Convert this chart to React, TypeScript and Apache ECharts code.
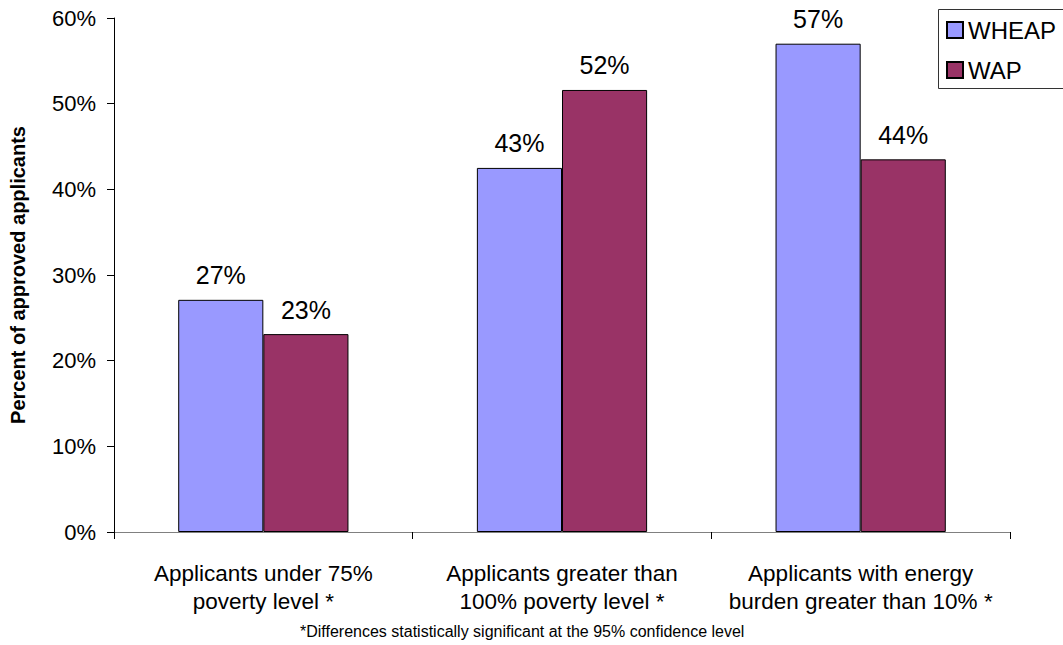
import React, { useEffect, useRef } from "react";
import * as echarts from "echarts";

const categories = [
  "Applicants under 75%\npoverty level *",
  "Applicants greater than\n100% poverty level *",
  "Applicants with energy\nburden greater than 10% *",
];
const wheapValues = [27.1, 42.5, 57.0];
const wapValues = [23.1, 51.6, 43.5];
const wheapLabels = ["27%", "43%", "57%"];
const wapLabels = ["23%", "52%", "44%"];
const yTicks = [0, 10, 20, 30, 40, 50, 60];

const FONT = "Liberation Sans, Arial, sans-serif";

export default function App() {
  const ref = useRef<HTMLDivElement>(null);
  useEffect(() => {
    if (!ref.current) return;
    const chart = echarts.init(ref.current, undefined, { renderer: "svg" });
    const labelFor = (arr: string[]) => ({
      show: true,
      position: "top",
      distance: 12,
      fontSize: 25,
      fontFamily: FONT,
      color: "#000",
      formatter: (p: any) => arr[p.dataIndex],
    });
    chart.setOption({
      animation: false,
      textStyle: { fontFamily: FONT },
      grid: { left: 107, right: 53, top: 18, bottom: 113, containLabel: false },
      legend: {
        orient: "vertical",
        left: 938,
        top: 9,
        padding: [9, 8, 6, 8],
        itemGap: 16,
        itemWidth: 16,
        itemHeight: 16,
        textStyle: { fontSize: 24, color: "#000", fontFamily: FONT },
        data: [
          { name: "WHEAP", icon: "rect" },
          { name: "WAP", icon: "rect" },
        ],
      },
      xAxis: {
        type: "category",
        data: categories,
        axisLine: { show: true, lineStyle: { color: "#808080", width: 1 } },
        axisTick: { show: true, length: 7, lineStyle: { color: "#000" } },
        axisLabel: {
          fontSize: 22.5,
          color: "#000",
          fontFamily: FONT,
          margin: 27,
          lineHeight: 28,
          interval: 0,
        },
      },
      yAxis: {
        type: "value",
        min: 0,
        max: 60,
        interval: 10,
        name: "Percent of approved applicants",
        nameLocation: "middle",
        nameGap: 86,
        nameTextStyle: { fontSize: 20, fontWeight: "bold", color: "#000", fontFamily: FONT },
        axisLine: { show: true, lineStyle: { color: "#000", width: 1 } },
        axisTick: { show: true, length: 7, lineStyle: { color: "#000" } },
        splitLine: { show: false },
        axisLabel: {
          fontSize: 22,
          color: "#000",
          fontFamily: FONT,
          margin: 18,
          formatter: (v: number) => (yTicks.includes(v) ? `${v}%` : ""),
        },
      },
      series: [
        {
          name: "WHEAP",
          type: "bar",
          data: wheapValues,
          barGap: "0%",
          barCategoryGap: "43%",
          itemStyle: { color: "#9999FF", borderColor: "#000", borderWidth: 1 },
          label: labelFor(wheapLabels),
        },
        {
          name: "WAP",
          type: "bar",
          data: wapValues,
          barGap: "0%",
          barCategoryGap: "43%",
          itemStyle: { color: "#993366", borderColor: "#000", borderWidth: 1 },
          label: labelFor(wapLabels),
        },
      ],
      graphic: [
        {
          type: "rect",
          shape: { x: 938.5, y: 9.5, width: 200, height: 79 },
          style: { fill: "transparent", stroke: "#333", lineWidth: 1 },
          z: 0,
        },
        {
          type: "text",
          left: 300,
          top: 623,
          style: {
            text: "*Differences statistically significant at the 95% confidence level",
            fontSize: 16,
            fill: "#000",
            fontFamily: FONT,
          },
        },
      ],
    });
    return () => chart.dispose();
  }, []);
  return <div ref={ref} style={{ width: 1063, height: 645, position: "absolute", left: 0, top: 0 }} />;
}
